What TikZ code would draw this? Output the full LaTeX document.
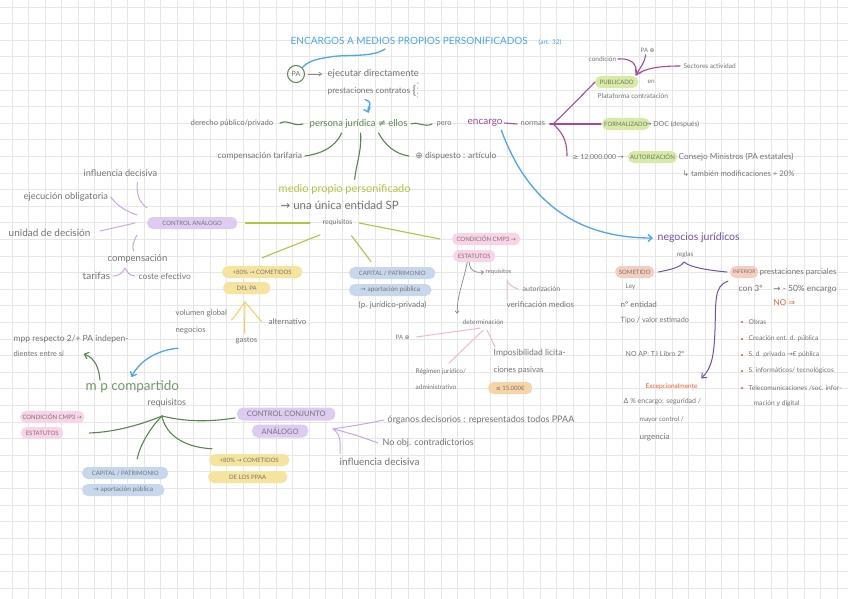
\documentclass[tikz,border=0pt]{standalone}
\usepackage{fontspec}
\setmainfont{Lato}
\newfontfamily\symf{DejaVu Sans}
\usetikzlibrary{arrows.meta}
\definecolor{txt}{HTML}{747474}
\definecolor{gridc}{HTML}{E7E7E7}
\definecolor{bl}{HTML}{4AA6F0}
\definecolor{grn}{HTML}{55894C}
\definecolor{grn2}{HTML}{6C9E63}
\definecolor{enc}{HTML}{A6489C}
\definecolor{ygr}{HTML}{B3C43E}
\definecolor{lav}{HTML}{C9A8E4}
\definecolor{pinkc}{HTML}{F6B6D6}
\definecolor{yelc}{HTML}{F2CF5A}
\definecolor{vio}{HTML}{7450AA}
\definecolor{redo}{HTML}{EC5A26}
\definecolor{graya}{HTML}{8A8A8A}
\definecolor{pgreen}{HTML}{D6EBA4}
\definecolor{plav}{HTML}{DDCBF2}
\definecolor{ppink}{HTML}{FAD3E6}
\definecolor{pyel}{HTML}{F6E49E}
\definecolor{pblu}{HTML}{C7D7EC}
\definecolor{porg}{HTML}{F8D3A6}
\definecolor{psal}{HTML}{F6CEBF}
\tikzset{
  tx/.style={text=txt, inner sep=0.5pt, anchor=west, font=\fontsize{#1}{#1}\selectfont},
  pill/.style={fill=#1, rounded corners=5.5pt, minimum height=12pt, inner xsep=2pt, inner ysep=0pt, text=txt, anchor=west, font=\fontsize{6}{6}\selectfont},
  blu/.style={draw=bl, line width=1.3pt},
  grnl/.style={draw=grn, line width=1.1pt},
  encl/.style={draw=enc, line width=1.1pt},
  ygrl/.style={draw=ygr, line width=1.1pt},
  lavl/.style={draw=lav, line width=1pt},
  pinkl/.style={draw=pinkc, line width=1pt},
  yell/.style={draw=yelc, line width=1pt},
  viol/.style={draw=vio, line width=1pt},
  gryl/.style={draw=graya, line width=0.7pt},
  arr/.style={-{Straight Barb[length=4pt,width=7pt]}},
  sarr/.style={-{Straight Barb[length=2.5pt,width=4pt]}},
  bul/.style={circle, fill=redo, inner sep=0pt, minimum size=2.2pt}
}
\begin{document}
\begin{tikzpicture}[x=1pt,y=-1pt,line cap=round,line join=round]
\useasboundingbox (0,0) rectangle (848,599);
\fill[white] (0,0) rectangle (848,599);
\foreach \i in {0,...,51} \draw[gridc,line width=0.8pt] ({12.3+16.5*\i},0) -- ({12.3+16.5*\i},599);
\foreach \i in {0,...,35} \draw[gridc,line width=0.8pt] (0,{505+16.6*(\i-30)}) -- (848,{505+16.6*(\i-30)});

% ---------- title ----------
\node[tx=10, text=bl] (title) at (290,41) {ENCARGOS A MEDIOS PROPIOS PERSONIFICADOS};
\node[tx=6.5, text=bl] (art) at (538,42) {(art. 32)};
\node[circle, draw=grn, line width=1pt, minimum size=17pt, inner sep=0pt, text=txt, font=\fontsize{7}{7}\selectfont] (pa) at (296,74) {PA};
\node[tx=9.5] (ejec) at (327,74) {ejecutar directamente};
\node[tx=8.3] (prest) at (327,91) {prestaciones contratos};
\node[tx=7] (brace) at (412,91) {{\fontsize{12}{12}\selectfont\{}\kern0.5pt\raisebox{-1.2ex}{\fontsize{3}{3.2}\selectfont\shortstack{o\\s\\s\\c}}};
\coordinate (t1) at (385,49);
\draw[blu] (t1) .. controls (372,58) and (345,54) .. (330,57) .. controls (315,59) and (307,62) .. (pa.north east);
\draw[gryl, sarr] ([xshift=3pt]pa.east) -- ([xshift=-5pt]ejec.west);

% ---------- central row ----------
\node[tx=9.5, text=grn] (pj) at (309,124) {persona jurídica {\symf ≠} ellos};
\node[tx=7.7] (dpp) at (190,123) {derecho público/privado};
\node[tx=7.5] (pero) at (436,124) {pero};
\node[tx=10, text=enc] (enc) at (467,123) {encargo};
\node[tx=7.5] (normas) at (520,124) {normas};
\node[tx=8.5] (comp) at (217,156) {compensación tarifaria};
\node[tx=8.5] (disp) at (415,156) {{\symf ⊕} dispuesto : artículo};
\draw[blu, arr] ([xshift=-4pt,yshift=-4pt]prest.south) .. controls (376,104) and (366,106) .. ([xshift=10pt,yshift=6pt]pj.north);
\draw[grnl] ([xshift=6pt]dpp.east) .. controls (290,119) and (292,127) .. ([xshift=-6pt]pj.west);
\draw[grnl] ([xshift=3pt]pj.east) .. controls (418,121) and (424,128) .. ([xshift=-4pt]pero.west);
\draw[grnl] ([xshift=-17pt,yshift=-4pt]pj.south) .. controls (335,148) and (320,154) .. ([xshift=2pt]comp.east);
\draw[grnl] ([xshift=20pt,yshift=-4pt]pj.south) .. controls (385,145) and (395,154) .. ([xshift=-6pt]disp.west);
\draw[encl] ([xshift=1pt]enc.east) -- ([xshift=-3pt]normas.west);

% ---------- top right ----------
\node[tx=6.5] (cond) at (588,59) {condición};
\node[tx=6] (pa2) at (640,50) {PA {\symf ⊕}};
\node[tx=6.5] (sect) at (683,66) {Sectores actividad};
\node[pill=pgreen, minimum width=43pt] (pub) at (595,82) {PUBLICADO};
\node[tx=6.5] (en) at (647,82) {en};
\node[tx=6.7] (plat) at (597,96) {Plataforma contratación};
\node[pill=pgreen, minimum width=41pt] (form) at (602,124) {FORMALIZADO};
\node[tx=7] (doc) at (645,124) {{\symf →} DOC (después)};
\node[tx=7] (geq) at (572,157) {{\symf ≥} 12.000.000 {\symf →}};
\node[pill=pgreen, minimum width=47pt] (aut) at (628,157) {AUTORIZACIÓN};
\node[tx=8.2] (cm) at (678,157) {Consejo Ministros (PA estatales)};
\node[tx=7.7] (tamb) at (682,174) {{\symf ↳} también modificaciones + 20\%};
\coordinate (fork) at (553,124);
\coordinate (tip) at (636,75);
\draw[encl] ([xshift=4pt]normas.east) -- (fork);
\draw[encl] (fork) .. controls (570,108) and (585,92) .. (pub.west);
\draw[encl] (fork) -- ([xshift=-1pt]form.west);
\draw[encl] (fork) .. controls (562,132) and (567,140) .. ([xshift=-5pt,yshift=-2pt]geq.north west);
\draw[encl] ([xshift=1pt]cond.east) .. controls (630,58) and (638,63) .. (tip);
\draw[encl, arr] ([xshift=-2pt,yshift=-2pt]pa2.south) .. controls (645,62) and (640,68) .. (tip);
\draw[encl] ([xshift=-3pt]sect.west) .. controls (660,66) and (645,68) .. (tip);

% ---------- medio propio personificado ----------
\node[tx=11, text=ygr] (mpp) at (278,189) {medio propio personificado};
\node[tx=11.5] (unica) at (280,205) {{\symf →} una única entidad SP};
\node[tx=7] (req) at (322,223) {requisitos};
\node[pill=plav, minimum width=90pt] (ca) at (147,223) {CONTROL ANÁLOGO};
\draw[grnl] ([xshift=2pt,yshift=-4pt]pj.south) .. controls (362,150) and (356,165) .. ([xshift=10pt,yshift=4pt]mpp.north);

% control análogo
\node[tx=9.2] (infl) at (83,173) {influencia decisiva};
\node[tx=9.3] (ejob) at (23,197) {ejecución obligatoria};
\node[tx=10] (unid) at (8,233) {unidad de decisión};
\node[tx=9.5] (compn) at (107,259) {compensación};
\node[tx=10] (tarif) at (82,276) {tarifas};
\node[tx=8.5] (coste) at (138,276) {coste efectivo};
\coordinate (tap) at (125,268);
\draw[lavl] ([xshift=17pt,yshift=-5pt]infl.south) .. controls (136,195) and (140,203) .. ([yshift=9pt]ca.north west);
\draw[lavl] ([xshift=2pt]ejob.east) .. controls (118,207) and (128,212) .. ([xshift=-10pt,yshift=8pt]ca.west);
\draw[lavl] ([xshift=9pt,yshift=2pt]unid.east) -- ([xshift=-12pt]ca.west);
\draw[lavl] ([xshift=-10pt,yshift=-12pt]ca.west) .. controls (133,242) and (132,247) .. ([xshift=-4pt,yshift=3pt]compn.north);
\draw[lavl] ([xshift=2pt]tarif.east) .. controls (120,276) and (123,272) .. (tap) .. controls (127,272) and (130,276) .. ([xshift=-3pt]coste.west);

% yellow
\node[pill=pyel, minimum width=80pt] (y1) at (222,272) {+80\% {\symf →} COMETIDOS};
\node[pill=pyel, minimum width=47pt] (y2) at (223,288) {DEL PA};
\node[tx=7.7] (vol) at (175,313) {volumen global};
\node[tx=7.7] (neg) at (175,330) {negocios};
\node[tx=8] (alt) at (268,322) {alternativo};
\node[tx=7.7] (gast) at (235,341) {gastos};
\coordinate (yap) at (245,302);
\draw[yell] ([xshift=4pt,yshift=-7pt]vol.east) .. controls (237,314) and (241,307) .. (yap);
\draw[yell] ([xshift=-6pt]alt.west) .. controls (255,314) and (249,307) .. (yap);
\draw[yell] ([xshift=-2pt,yshift=4pt]gast.north) -- (yap);

% blue
\node[pill=pblu, minimum width=86pt] (b1) at (349,273) {CAPITAL / PATRIMONIO};
\node[pill=pblu, minimum width=82pt, font=\fontsize{6.5}{6.5}\selectfont] (b2) at (349,290) {{\symf →} aportación pública};
\node[tx=8] (pjp) at (358,305) {(p. jurídico-privada)};

% pink
\node[pill=ppink, minimum width=68pt] (pk1) at (452,239) {CONDICIÓN CMP3 {\symf →}};
\node[pill=ppink, minimum width=42pt] (pk2) at (453,256) {ESTATUTOS};
\node[tx=6] (reqs) at (485,272) {requisitos};
\node[tx=7] (autz) at (522,289) {autorización};
\node[tx=8] (verif) at (506,305) {verificación medios};
\node[tx=6.5] (det) at (462,322) {determinación};
\node[tx=6] (pa3) at (395,337) {PA {\symf ⊕}};
\node[tx=6.5] (reg1) at (415,372) {Régimen jurídico/};
\node[tx=6.5] (reg2) at (415,387) {administrativo};
\node[tx=8.5] (imp1) at (493,353) {Imposibilidad licita-};
\node[tx=8] (imp2) at (493,370) {ciones pasivas};
\node[pill=porg, minimum width=44pt] (lq) at (488,388) {{\symf ≤} 15.000€};
\draw[ygrl] ([xshift=8pt]ca.east) -- ([xshift=-12pt]req.west);
\draw[ygrl] ([xshift=-2pt,yshift=-8pt]req.south west) -- ([yshift=8pt]y1.north);
\draw[ygrl] ([xshift=14pt,yshift=-9pt]req.south) -- ([xshift=-21pt,yshift=5pt]b1.north);
\draw[ygrl] ([xshift=6pt]req.east) -- ([xshift=-12pt]pk1.west);
\coordinate (ptip) at (507,280);
\draw[gryl, sarr] ([xshift=-7pt]pk2.south) .. controls (464,280) and (457,295) .. ([xshift=-26pt,yshift=5pt]det.north);
\draw[gryl, sarr] ([xshift=-5pt]pk2.south) .. controls (470,272) and (476,273) .. ([xshift=-1pt]reqs.west);
\draw[pinkl] ([xshift=-4pt]autz.west) .. controls (512,287) and (508,284) .. (ptip) -- ([xshift=1pt,yshift=2pt]verif.north west);
\draw[pinkl] ([xshift=-3pt,yshift=-3pt]det.south) -- ([xshift=6pt]pa3.east);
\draw[pinkl] ([yshift=-5pt]det.south) -- ([xshift=8pt,yshift=5pt]reg1.north);
\draw[pinkl] ([xshift=4pt,yshift=-5pt]det.south) -- ([xshift=2pt,yshift=1pt]imp1.north west);

% ---------- negocios jurídicos ----------
\node[tx=10.5, text=vio] (nj) at (657,238) {negocios jurídicos};
\node[tx=6.5] (regl) at (676,255) {reglas};
\node[pill=psal, minimum width=39pt] (som) at (615,272) {SOMETIDO};
\node[pill=psal, minimum width=28pt, inner xsep=1pt, font=\fontsize{5}{5}\selectfont] (inf) at (730,272) {INFERIOR};
\node[tx=8] (pparc) at (759,272) {prestaciones parciales};
\node[tx=8.5] (con3) at (738,289) {con 3º \quad{\symf →} - 50\% encargo};
\node[tx=8, text=redo] (noimp) at (773,303) {NO {\symf ⇒}};
\node[tx=6.5] (ley) at (625,287) {Ley};
\node[tx=8] (nent) at (620,305) {nº entidad};
\node[tx=7.3] (tipo) at (620,320) {Tipo / valor estimado};
\node[tx=7] (noap) at (625,354) {NO AP: T.I Libro 2º};
\node[tx=6.5, text=redo] (exc) at (645,387) {Excepcionalmente};
\node[tx=7] (d1) at (623,402) {{\symf Δ} \% encargo: seguridad /};
\node[tx=6.5] (d2) at (639,420) {mayor control /};
\node[tx=8] (d3) at (639,437) {urgencia};
\draw[blu, arr] ([xshift=-2pt,yshift=-3pt]enc.south east) .. controls (525,195) and (570,238) .. ([xshift=-4pt]nj.west);
\coordinate (rap) at (684,262);
\draw[viol] ([xshift=4pt]som.east) .. controls (668,270) and (680,268) .. (rap) .. controls (690,268) and (715,271) .. ([xshift=-3pt]inf.west);
\draw[viol, arr] ([xshift=-2pt,yshift=-3pt]inf.south west) .. controls (714,286) and (716,300) .. (715,330) .. controls (714,355) and (712,368) .. ([xshift=3pt,yshift=5pt]exc.north east);
\foreach \i/\yy/\t in {1/322/{Obras}, 2/339/{Creación ent. d. pública}, 3/355/{S. d. privado {\symf →}€ pública}, 4/371/{S. informáticos/ tecnológicos}, 5/388/{Telecomunicaciones /soc. infor-}}{
  \node[bul] (bu\i) at (742,\yy) {};
  \node[tx=6.7] (bt\i) at (748,\yy) {\t};
}
\node[tx=6.7] (bt6) at (753,404) {mación y digital};

% ---------- m p compartido ----------
\node[tx=8.5] (mr1) at (13,339) {mpp respecto 2/+ PA indepen-};
\node[tx=7.5] (mr2) at (13,354) {dientes entre sí};
\node[tx=13.5, text=grn2] (mpc) at (85,387) {m p compartido};
\node[tx=9] (req2) at (147,403) {requisitos};
\node[pill=ppink, minimum width=64pt] (pk3) at (20,417) {CONDICIÓN CMP3 {\symf →}};
\node[pill=ppink, minimum width=42pt] (pk4) at (21,433) {ESTATUTOS};
\node[pill=pblu, minimum width=86pt] (b3) at (82,473) {CAPITAL / PATRIMONIO};
\node[pill=pblu, minimum width=82pt, font=\fontsize{6.5}{6.5}\selectfont] (b4) at (82,490) {{\symf →} aportación pública};
\node[pill=pyel, minimum width=80pt] (y3) at (209,460) {+80\% {\symf →} COMETIDOS};
\node[pill=pyel, minimum width=79pt] (y4) at (208,477) {DE LOS PPAA};
\node[pill=plav, minimum width=98pt, minimum height=13pt, font=\fontsize{7.5}{7.5}\selectfont] (cc1) at (237,414) {CONTROL CONJUNTO};
\node[pill=plav, minimum width=56pt, minimum height=13pt, font=\fontsize{7.5}{7.5}\selectfont] (cc2) at (252,431) {ANÁLOGO};
\node[tx=9] (org) at (387,420) {órganos decisorios : representados todos PPAA};
\node[tx=9] (noobj) at (382,443) {No obj. contradictorios};
\node[tx=10] (infl2) at (339,462) {influencia decisiva};
\draw[blu, arr] ([xshift=3pt,yshift=-14pt]neg.south west) .. controls (158,350) and (140,360) .. ([xshift=-1pt,yshift=3pt]mpc.north);
\draw[grnl, arr] ([xshift=15pt]mpc.north west) .. controls (99,368) and (95,358) .. ([xshift=19pt]mr2.east);
\coordinate (gap) at (162,416);
\draw[grnl] (gap) .. controls (140,425) and (115,432) .. ([xshift=26pt]pk4.east);
\draw[grnl] (gap) .. controls (150,428) and (140,445) .. ([xshift=12pt,yshift=8pt]b3.north);
\draw[grnl] (gap) .. controls (165,432) and (180,447) .. ([xshift=3pt,yshift=5pt]y3.north west);
\draw[grnl] (gap) .. controls (190,423) and (215,421) .. ([xshift=-2pt,yshift=-4pt]cc1.west);
\coordinate (cap) at (333,429);
\draw[lavl] ([xshift=-3pt]org.west) .. controls (360,425) and (345,427) .. (cap);
\draw[lavl] (cap) .. controls (350,433) and (365,438) .. ([xshift=-4pt]noobj.west);
\draw[lavl] (cap) .. controls (342,435) and (340,445) .. ([xshift=1pt,yshift=4pt]infl2.north west);
\end{tikzpicture}
\end{document}
